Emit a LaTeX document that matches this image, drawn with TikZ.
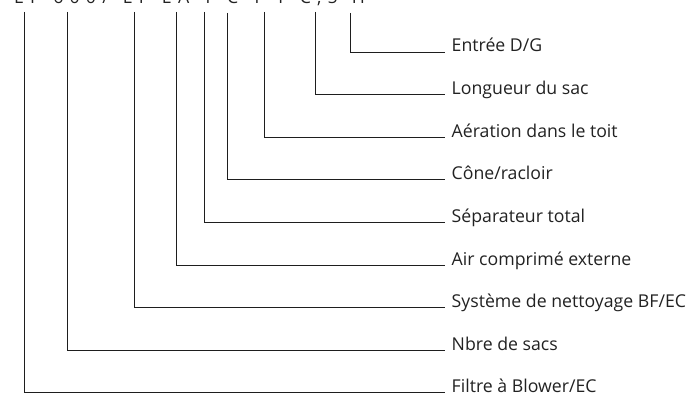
\documentclass[tikz,border=0pt]{standalone}
\usepackage{fontspec}
\setmainfont{Open Sans}
\newfontfamily\codefont[LetterSpace=35]{Open Sans}
\usetikzlibrary{positioning}
\definecolor{lline}{RGB}{30,30,30}
\definecolor{ltext}{RGB}{34,34,34}

\begin{document}
\begin{tikzpicture}[
  x=1pt,y=1pt,
  font=\fontsize{17.7}{21}\selectfont,
  lbl/.style={anchor=base west,inner sep=0pt,text=ltext},
  lead/.style={draw=lline,line width=0.9pt}
]
  \useasboundingbox (0,0) rectangle (698,394);

  % type code, cut off by the top edge
  \node[lbl,font=\codefont\fontsize{17.7}{21}\selectfont] (code) at (14,390)
    {\spaceskip=14pt\relax EF 600/ EF EA T C T T C,5 H};

  % tops of the leaders
  \coordinate (t1) at (24,382);
  \coordinate (t2) at (67,382);
  \coordinate (t3) at (134,382);
  \coordinate (t4) at (176,382);
  \coordinate (t5) at (204,382);
  \coordinate (t6) at (227,381);
  \coordinate (t7) at (264,382);
  \coordinate (t8) at (315,382);
  \coordinate (t9) at (350,381);

  % labels
  \node[lbl] (l9) at (451.5,342) {Entrée D/G};
  \node[lbl] (l8) at (451.5,299.4) {Longueur du sac};
  \node[lbl] (l7) at (451.5,256.8) {Aération dans le toit};
  \node[lbl] (l6) at (451.5,214.2) {Cône/racloir};
  \node[lbl] (l5) at (451.5,171.6) {Séparateur total};
  \node[lbl] (l4) at (451.5,129) {Air comprimé externe};
  \node[lbl] (l3) at (451.5,86.4) {Système de nettoyage BF/EC};
  \node[lbl] (l2) at (451.5,43.8) {Nbre de sacs};
  \node[lbl] (l1) at (451.5,1.2) {Filtre à Blower/EC};

  % leaders
  \draw[lead] (t1) |- ([xshift=-6.5pt]l1.base west);
  \draw[lead] (t2) |- ([xshift=-6.5pt]l2.base west);
  \draw[lead] (t3) |- ([xshift=-6.5pt]l3.base west);
  \draw[lead] (t4) |- ([xshift=-6.5pt]l4.base west);
  \draw[lead] (t5) |- ([xshift=-6.5pt]l5.base west);
  \draw[lead] (t6) |- ([xshift=-6.5pt]l6.base west);
  \draw[lead] (t7) |- ([xshift=-6.5pt]l7.base west);
  \draw[lead] (t8) |- ([xshift=-6.5pt]l8.base west);
  \draw[lead] (t9) |- ([xshift=-6.5pt]l9.base west);
\end{tikzpicture}
\end{document}
